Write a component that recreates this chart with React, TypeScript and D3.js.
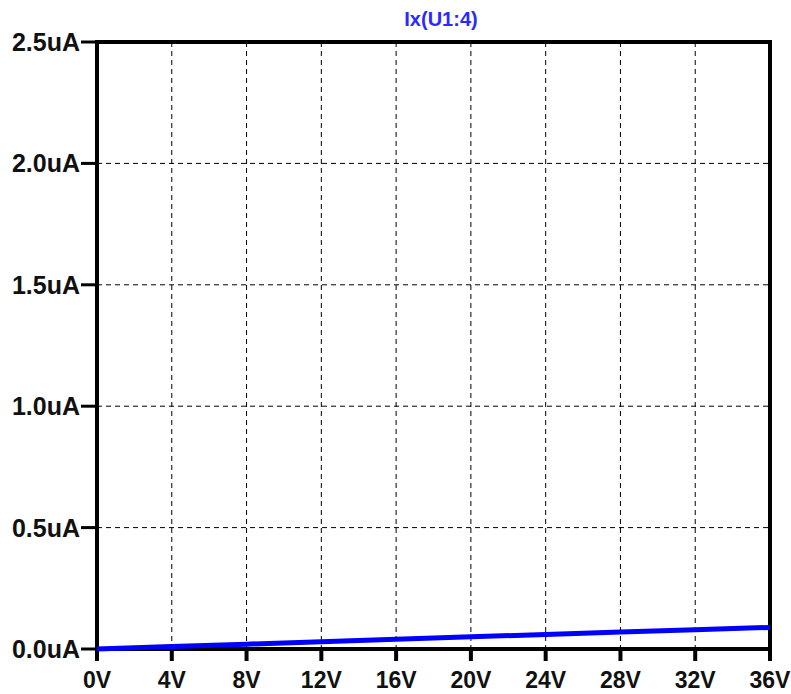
import React, { useEffect, useRef } from "react";
import * as d3 from "d3";

// sweep voltage (V) and current Ix(U1:4) (uA)
const voltage = [0, 4, 8, 12, 16, 20, 24, 28, 32, 36];
const current = [0, 0.01, 0.02, 0.03, 0.04, 0.05, 0.06, 0.07, 0.079, 0.089];
const xTicks = [0, 4, 8, 12, 16, 20, 24, 28, 32, 36];
const yTicks = [0, 0.5, 1.0, 1.5, 2.0, 2.5];
const title = "Ix(U1:4)";

export default function App() {
  const ref = useRef<SVGSVGElement>(null);

  useEffect(() => {
    const margin = { top: 42, right: 21, bottom: 45, left: 97 };
    const width = 791;
    const height = 694;
    const svg = d3.select(ref.current);
    svg.selectAll("*").remove();

    const x = d3.scaleLinear().domain([0, 36]).range([margin.left, width - margin.right]);
    const y = d3.scaleLinear().domain([0, 2.5]).range([height - margin.bottom, margin.top]);
    const font = "'Liberation Sans', Arial, sans-serif";

    // grid
    svg.append("g")
      .selectAll("line")
      .data(xTicks.slice(1, -1))
      .join("line")
      .attr("x1", (d) => x(d)).attr("x2", (d) => x(d))
      .attr("y1", y(2.5)).attr("y2", y(0))
      .attr("stroke", "#000").attr("stroke-width", 1).attr("stroke-dasharray", "5,4");
    svg.append("g")
      .selectAll("line")
      .data(yTicks.slice(1, -1))
      .join("line")
      .attr("x1", x(0)).attr("x2", x(36))
      .attr("y1", (d) => y(d)).attr("y2", (d) => y(d))
      .attr("stroke", "#000").attr("stroke-width", 1).attr("stroke-dasharray", "5,4");

    // tick marks
    svg.append("g")
      .selectAll("line")
      .data(yTicks)
      .join("line")
      .attr("x1", x(0) - 16).attr("x2", x(0))
      .attr("y1", (d) => y(d)).attr("y2", (d) => y(d))
      .attr("stroke", "#000").attr("stroke-width", 3);
    svg.append("g")
      .selectAll("line")
      .data(xTicks)
      .join("line")
      .attr("x1", (d) => x(d)).attr("x2", (d) => x(d))
      .attr("y1", y(0)).attr("y2", y(0) + 12)
      .attr("stroke", "#000").attr("stroke-width", 4);

    // frame
    svg.append("rect")
      .attr("x", x(0)).attr("y", y(2.5))
      .attr("width", x(36) - x(0)).attr("height", y(0) - y(2.5))
      .attr("fill", "none").attr("stroke", "#000").attr("stroke-width", 4);

    // labels
    svg.append("g")
      .selectAll("text")
      .data(yTicks)
      .join("text")
      .attr("x", x(0) - 17).attr("y", (d) => y(d) + 9)
      .attr("text-anchor", "end")
      .attr("font-family", font).attr("font-weight", "bold").attr("font-size", 25)
      .attr("fill", "#111")
      .text((d) => d3.format(".1f")(d) + "uA");
    svg.append("g")
      .selectAll("text")
      .data(xTicks)
      .join("text")
      .attr("x", (d) => x(d)).attr("y", y(0) + 39)
      .attr("text-anchor", "middle")
      .attr("font-family", font).attr("font-weight", "bold").attr("font-size", 23)
      .attr("fill", "#111")
      .text((d) => d + "V");

    svg.append("text")
      .attr("x", 441).attr("y", 26)
      .attr("text-anchor", "middle")
      .attr("font-family", font).attr("font-weight", "bold").attr("font-size", 20)
      .attr("fill", "#2a2aff")
      .text(title);

    const line = d3.line<number>()
      .x((_, i) => x(voltage[i]))
      .y((d) => y(d));
    svg.append("path")
      .datum(current)
      .attr("d", line)
      .attr("fill", "none")
      .attr("stroke", "#0000ff")
      .attr("stroke-width", 5);
  }, []);

  return <svg ref={ref} width={791} height={694} style={{ position: "absolute", left: 0, top: 0 }} />;
}
